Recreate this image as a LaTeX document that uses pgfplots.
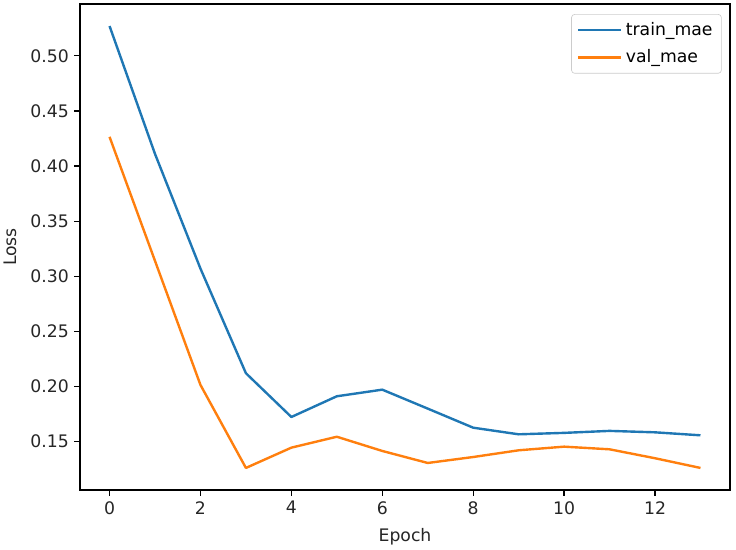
\documentclass[border=0pt]{standalone}
\usepackage{pgfplots}
\pgfplotsset{compat=1.18}
\usepackage{fontspec}
\setmainfont{DejaVu Sans}

\definecolor{tabblue}{HTML}{1F77B4}
\definecolor{taborange}{HTML}{FF7F0E}

\begin{document}
\begin{tikzpicture}[x=1pt,y=1pt]
% page frame: 736 x 550 px at 0.626087 pt per px
\useasboundingbox (-50.09pt,-37.57pt) rectangle (410.71pt,306.78pt);
\begin{axis}[
  at={(0,0)}, anchor=south west,
  scale only axis,
  width=406.96pt, height=304.28pt,
  xmin=-0.65, xmax=13.65,
  ymin=0.1062, ymax=0.547,
  xtick={0,2,...,12},
  ytick={0.15,0.20,...,0.51},
  yticklabel style={/pgf/number format/.cd,fixed,fixed zerofill,precision=2},
  /pgf/number format/assume math mode=true,
  tick align=outside,
  major tick length=3.5pt,
  tick style={black, line width=0.8pt},
  axis line style={line width=0.8pt},
  xtick pos=bottom, ytick pos=left,
  tick label style={font=\fontsize{10.8}{13}\selectfont, text=black!85},
  label style={font=\fontsize{10.8}{13}\selectfont, text=black!85},
  xlabel={Epoch},
  ylabel={Loss},
  x label style={at={(axis description cs:0.5,-0.0967)}, anchor=center},
  y label style={at={(axis description cs:-0.1077,0.5)}, anchor=center},
  legend style={at={(1,1)}, anchor=north east, xshift=-5.2pt, yshift=-6.3pt,
    draw=black!20, rounded corners=2pt, fill=white, fill opacity=0.8, text opacity=1,
    font=\fontsize{10.8}{13}\selectfont, inner xsep=3.5pt, inner ysep=3pt,
    row sep=3.5pt},
  legend cell align=left,
  legend image code/.code={\draw[#1, line width=1.5pt] (0pt,0pt) -- (27pt,0pt);},
  every axis plot/.append style={line width=1.5pt, line join=round},
]
\addplot[tabblue] coordinates {
  (0,0.527) (1,0.411) (2,0.307) (3,0.2121) (4,0.1724) (5,0.1912) (6,0.1972)
  (7,0.1800) (8,0.1627) (9,0.1567) (10,0.1580) (11,0.1598) (12,0.1585) (13,0.1558)
};
\addlegendentry{train\_mae}
\addplot[taborange] coordinates {
  (0,0.4265) (1,0.314) (2,0.2015) (3,0.1262) (4,0.1446) (5,0.1545) (6,0.1416)
  (7,0.1307) (8,0.1361) (9,0.1422) (10,0.1455) (11,0.1431) (12,0.1350) (13,0.1262)
};
\addlegendentry{val\_mae}
\end{axis}
\end{tikzpicture}
\end{document}
